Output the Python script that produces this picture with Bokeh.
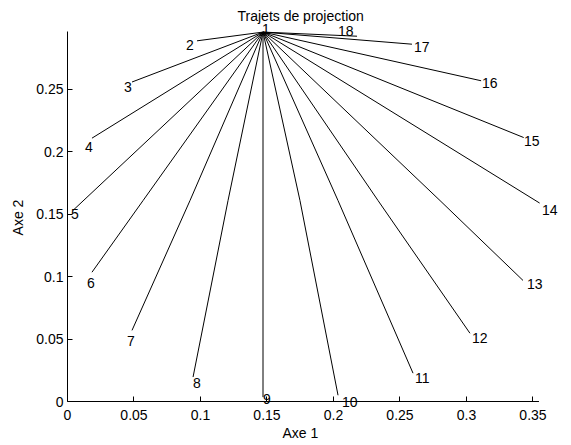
from bokeh.plotting import figure
from bokeh.models import Range1d, FixedTicker, Label, Title
from bokeh.embed import file_html
from bokeh.resources import INLINE

# ---- data ----
center_x = 0.147
center_y = 0.296

traj_ids = [str(i) for i in range(1, 19)]

# intermediate points read at y = 0.161 for some trajectories (None if not used)
mid_x = [None, None, None, None, None, 0.0568, 0.0921, 0.1207, None,
         0.1748, 0.2034, 0.2335, 0.2801, None, None, None, None, None]
mid_y = [None, None, None, None, None, 0.161, 0.161, 0.161, None,
         0.161, 0.161, 0.161, 0.161, None, None, None, None, None]

end_x = [0.147, 0.0974, 0.0485, 0.0184, 0.004, 0.0184, 0.0485, 0.0944, 0.147,
         0.2034, 0.2598, 0.3026, 0.3425, 0.355, 0.343, 0.311, 0.259, 0.2177]
end_y = [0.296, 0.289, 0.256, 0.211, 0.153, 0.1036, 0.057, 0.0196, 0.0035,
         0.005, 0.0227, 0.0547, 0.097, 0.159, 0.2115, 0.257, 0.2863, 0.2927]

label_x = [0.1463, 0.0891, 0.0425, 0.0132, 0.0026, 0.0147, 0.0447, 0.0944, 0.147,
           0.2064, 0.2613, 0.3041, 0.3455, 0.3568, 0.3432, 0.3117, 0.2605, 0.2033]
label_y = [0.2983, 0.2855, 0.2519, 0.2038, 0.150, 0.0949, 0.0483, 0.0147, 0.0018,
           -0.0006, 0.0187, 0.0507, 0.094, 0.1533, 0.2085, 0.255, 0.284, 0.297]

x_ticks = [0, 0.05, 0.1, 0.15, 0.2, 0.25, 0.3, 0.35]
x_tick_labels = ["0", "0.05", "0.1", "0.15", "0.2", "0.25", "0.3", "0.35"]
y_ticks = [0, 0.05, 0.1, 0.15, 0.2, 0.25]
y_tick_labels = ["0", "0.05", "0.1", "0.15", "0.2", "0.25"]

# axis extents (data limits) and the visible window around them
x_max = 0.3545
y_max = 0.2967
view_x = (0.0, 0.3767)
view_y = (-0.00801, 0.30288)

# ---- build trajectories ----
xs, ys = [], []
for i in range(len(traj_ids)):
    tx = [center_x]
    ty = [center_y]
    if mid_x[i] is not None:
        tx.append(mid_x[i])
        ty.append(mid_y[i])
    tx.append(end_x[i])
    ty.append(end_y[i])
    xs.append(tx)
    ys.append(ty)

FONT = "Liberation Sans"
FS = "14px"

p = figure(width=570, height=445, output_backend="svg", toolbar_location=None,
           x_range=Range1d(*view_x), y_range=Range1d(*view_y),
           min_border_left=67, min_border_right=2, min_border_top=23,
           min_border_bottom=34, title="Trajets de projection")

p.background_fill_color = "white"
p.border_fill_color = "white"
p.outline_line_color = None
p.grid.visible = False

p.title.align = "left"
p.title.offset = 170
p.title.text_font = FONT
p.title.text_font_size = FS
p.title.text_font_style = "normal"
p.title.text_color = "black"
p.title.standoff = 0

# x axis line at y = 0 (the frame extends slightly below so labels are not cut)
p.segment(x0=[0], y0=[0], x1=[x_max], y1=[0], line_color="black", line_width=1)

p.multi_line(xs, ys, line_color="black", line_width=1)

for lx, ly, lt in zip(label_x, label_y, traj_ids):
    p.add_layout(Label(x=lx, y=ly, text=lt, text_font=FONT, text_font_size=FS,
                       text_align="left", text_baseline="middle",
                       text_color="black"))

for ax, ticks, tlabels in ((p.xaxis[0], x_ticks, x_tick_labels),
                           (p.yaxis[0], y_ticks, y_tick_labels)):
    ax.ticker = FixedTicker(ticks=ticks)
    ax.major_label_overrides = {t: l for t, l in zip(ticks, tlabels)}
    ax.axis_label_text_font = FONT
    ax.axis_label_text_font_size = FS
    ax.axis_label_text_font_style = "normal"
    ax.axis_label_text_color = "black"
    ax.major_label_text_font = FONT
    ax.major_label_text_font_size = FS
    ax.major_label_text_color = "black"
    ax.axis_line_color = "black"
    ax.major_tick_line_color = "black"
    ax.major_tick_in = 5
    ax.major_tick_out = 0
    ax.minor_tick_line_color = None
    ax.minor_tick_in = 0
    ax.minor_tick_out = 0

xa = p.xaxis[0]
xa.bounds = (0, x_max)
xa.axis_line_color = None
xa.major_tick_in = 15
xa.major_tick_out = -10
xa.minor_tick_out = -10
xa.major_label_standoff = -2

# x axis title, centred under the axis extent (0 .. x_max)
p.add_layout(Title(text="Axe 1", align="left", offset=215, standoff=0,
                   text_font=FONT, text_font_size=FS, text_font_style="normal",
                   text_color="black"), "below")

ya = p.yaxis[0]
ya.axis_label = "Axe 2"
ya.bounds = (0, y_max)
ya.major_label_standoff = 4
ya.axis_label_standoff = 7

open("out.html", "w").write(file_html(p, INLINE))
